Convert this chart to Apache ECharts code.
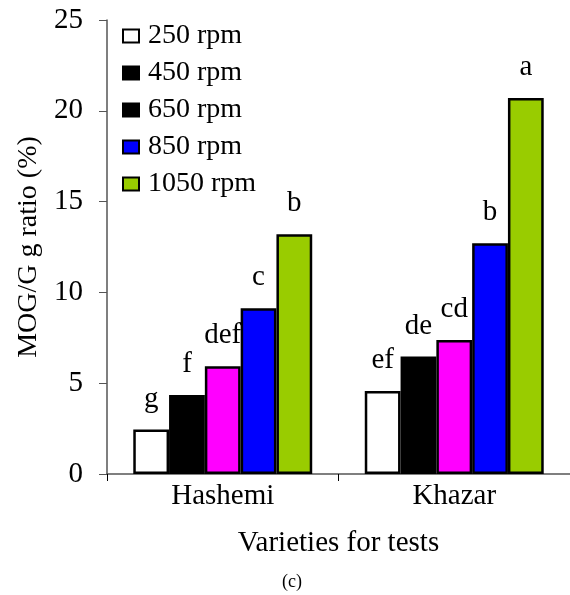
<!DOCTYPE html>
<html>
<head>
<meta charset="utf-8">
<script src="https://cdn.jsdelivr.net/npm/echarts@6/dist/echarts.min.js"></script>
<style>
html,body{margin:0;padding:0;background:#fff;}
#chart{width:570px;height:595px;}
</style>
</head>
<body>
<div id="chart"></div>
<script>
var categories = ['Hashemi', 'Khazar'];
var seriesNames = ['250 rpm', '450 rpm', '650 rpm', '850 rpm', '1050 rpm'];
var v250 = [2.45, 4.57];
var v450 = [4.35, 6.47];
var v650 = [5.93, 7.38];
var v850 = [9.13, 12.7];
var v1050 = [13.2, 20.7];
var letters250 = ['g', 'ef'];
var letters450 = ['f', 'de'];
var letters650 = ['def', 'cd'];
var letters850 = ['c', 'b'];
var letters1050 = ['b', 'a'];
var barColors = ['#ffffff', '#000000', '#ff00ff', '#0000ff', '#99cc00'];
var legendColors = ['#ffffff', '#000000', '#000000', '#0000ff', '#99cc00'];

var FONT = "'Liberation Serif', 'Times New Roman', serif";
var values = [v250, v450, v650, v850, v1050];
var letters = [letters250, letters450, letters650, letters850, letters1050];

var series = seriesNames.map(function (name, i) {
  return {
    name: name,
    type: 'bar',
    barGap: '0%',
    barCategoryGap: '22.7%',
    data: values[i],
    itemStyle: { color: barColors[i], borderColor: '#000', borderWidth: 2.5 },
    label: {
      show: true,
      position: 'top',
      distance: 16,
      color: '#000',
      fontFamily: FONT,
      fontSize: 29,
      formatter: function (p) { return letters[i][p.dataIndex]; }
    }
  };
});

var chart = echarts.init(document.getElementById('chart'));
chart.setOption({
  animation: false,
  backgroundColor: '#fff',
  grid: { left: 107, right: -3, top: 20, bottom: 121 },
  legend: {
    orient: 'vertical',
    left: 122,
    top: 22,
    padding: 0,
    itemWidth: 16,
    itemHeight: 13,
    itemGap: 9,
    icon: 'rect',
    textStyle: { fontFamily: FONT, fontSize: 28, color: '#000', padding: [0, 0, 0, 4] },
    data: seriesNames.map(function (n, i) {
      return { name: n, itemStyle: { color: legendColors[i], borderColor: '#000', borderWidth: 2 } };
    })
  },
  xAxis: {
    type: 'category',
    data: categories,
    name: 'Varieties for tests',
    nameLocation: 'middle',
    nameGap: 55,
    nameTextStyle: { fontFamily: FONT, fontSize: 29, color: '#000' },
    axisLine: { lineStyle: { color: '#555', width: 1.5 } },
    axisTick: { show: true, length: 7, lineStyle: { color: '#000' } },
    axisLabel: { fontFamily: FONT, fontSize: 29, color: '#000', margin: 8 }
  },
  yAxis: {
    type: 'value',
    min: 0,
    max: 25,
    interval: 5,
    name: 'MOG/G g ratio (%)',
    nameLocation: 'middle',
    nameGap: 60,
    nameTextStyle: { fontFamily: FONT, fontSize: 28, color: '#000' },
    splitLine: { show: false },
    axisLine: { show: true, lineStyle: { color: '#555', width: 1.5 } },
    axisTick: { show: true, length: 8, lineStyle: { color: '#555' } },
    axisLabel: { fontFamily: FONT, fontSize: 29, color: '#000', margin: 24 }
  },
  graphic: [{
    type: 'text',
    left: 282,
    top: 573,
    style: { text: '(c)', font: "18px 'Liberation Serif', 'Times New Roman', serif", fill: '#000' }
  }],
  series: series
});
</script>
</body>
</html>
